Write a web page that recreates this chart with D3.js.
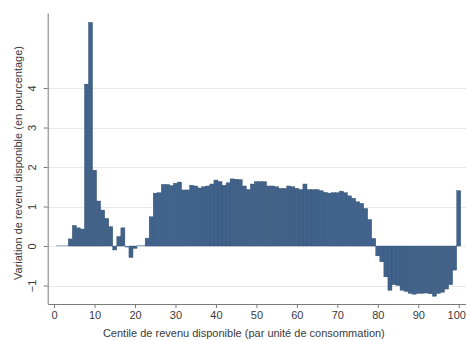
<!DOCTYPE html>
<html>
<head>
<meta charset="utf-8">
<script src="https://cdn.jsdelivr.net/npm/d3@7"></script>
<style>
  html, body { margin: 0; padding: 0; background: #fff; }
  svg { display: block; }
  text { font-family: "Liberation Sans", Arial, sans-serif; fill: #3a3a3a; }
</style>
</head>
<body>
<svg id="chart" width="466" height="341"></svg>
<script>
// Centiles of disposable income (per consumption unit)
const centiles = d3.range(1, 101);

// Change in disposable income (%) for each centile
const variation = [
  0.01, 0.01, 0.01, 0.18, 0.52, 0.46, 0.43, 4.10, 5.66, 1.92,
  1.14, 0.91, 0.70, 0.49, -0.10, 0.24, 0.46, -0.03, -0.29, -0.06,
  0.02, 0.02, 0.20, 0.74, 1.34, 1.35, 1.56, 1.56, 1.53, 1.59,
  1.62, 1.42, 1.42, 1.54, 1.52, 1.47, 1.50, 1.52, 1.57, 1.67,
  1.63, 1.54, 1.60, 1.70, 1.69, 1.68, 1.52, 1.43, 1.57, 1.63,
  1.63, 1.63, 1.52, 1.52, 1.50, 1.46, 1.46, 1.52, 1.50, 1.46,
  1.43, 1.57, 1.43, 1.43, 1.43, 1.40, 1.36, 1.34, 1.35, 1.35,
  1.39, 1.35, 1.27, 1.21, 1.12, 1.08, 0.95, 0.67, 0.19, -0.25,
  -0.40, -0.78, -1.12, -0.98, -1.00, -1.12, -1.15, -1.20, -1.22, -1.20,
  -1.20, -1.19, -1.21, -1.27, -1.20, -1.17, -1.09, -0.98, -0.61, 1.40
];

const xTicks = d3.range(0, 101, 10);
const yTicks = [-1, 0, 1, 2, 3, 4];

const xTitle = "Centile de revenu disponible (par unité de consommation)";
const yTitle = "Variation de revenu disponible (en pourcentage)";

const svg = d3.select("#chart");

const plotLeft = 47.7, plotRight = 466, plotTop = 13, plotBottom = 304;

const x = d3.scaleLinear().domain([-1.58, 101.8]).range([plotLeft, plotRight]);
const y = d3.scaleLinear().domain([-1.468, 5.9]).range([plotBottom, plotTop]);

// horizontal grid lines
svg.append("g")
  .selectAll("line")
  .data(yTicks)
  .join("line")
  .attr("x1", plotLeft)
  .attr("x2", plotRight)
  .attr("y1", d => Math.round(y(d)) + 0.5)
  .attr("y2", d => Math.round(y(d)) + 0.5)
  .attr("stroke", "#e8e8e8")
  .attr("stroke-width", 1.2);

// bars
const data = centiles.map((c, i) => ({ c, v: variation[i] }));
svg.append("g")
  .selectAll("rect")
  .data(data)
  .join("rect")
  .attr("x", d => x(d.c - 0.5))
  .attr("width", d => x(d.c + 0.5) - x(d.c - 0.5))
  .attr("y", d => Math.min(y(d.v), y(0)))
  .attr("height", d => Math.abs(y(d.v) - y(0)))
  .attr("fill", "#41638b")
  .attr("stroke", d => Math.abs(d.v) < 0.05 ? "#a9bdd3" : "#2f4e72")
  .attr("stroke-width", 0.4);

// x axis
const xAxis = d3.axisBottom(x).tickValues(xTicks).tickSize(4).tickPadding(3).tickSizeOuter(0);
const gx = svg.append("g").attr("transform", `translate(0,${plotBottom})`).call(xAxis);
gx.select(".domain").attr("stroke", "#7a7a7a");
gx.selectAll(".tick line").attr("stroke", "#7a7a7a");
gx.selectAll(".tick text").attr("font-size", 11).attr("fill", "#3a3a3a")
  .attr("font-family", "Liberation Sans, Arial, sans-serif")
  // keep the last label inside the frame
  .attr("dx", d => d === 100 ? -2.5 : 0);

// y axis, labels turned vertical
const yAxis = d3.axisLeft(y).tickValues(yTicks).tickSize(4).tickSizeOuter(0).tickFormat(d3.format("d"));
const gy = svg.append("g").attr("transform", `translate(${plotLeft},0)`).call(yAxis);
gy.select(".domain").attr("stroke", "#7a7a7a");
gy.selectAll(".tick line").attr("stroke", "#7a7a7a");
gy.selectAll(".tick text")
  .attr("font-size", 11)
  .attr("fill", "#3a3a3a")
  .attr("font-family", "Liberation Sans, Arial, sans-serif")
  .attr("x", null).attr("dy", null)
  .attr("text-anchor", "middle")
  .attr("transform", "translate(-11.5,0) rotate(-90)");

// axis titles
svg.append("text")
  .attr("x", (plotLeft + 420) / 2 + 10)
  .attr("y", 337)
  .attr("text-anchor", "middle")
  .attr("font-size", 11)
  .text(xTitle);

svg.append("text")
  .attr("transform", `translate(22,${163}) rotate(-90)`)
  .attr("text-anchor", "middle")
  .attr("font-size", 11)
  .text(yTitle);
</script>
</body>
</html>
